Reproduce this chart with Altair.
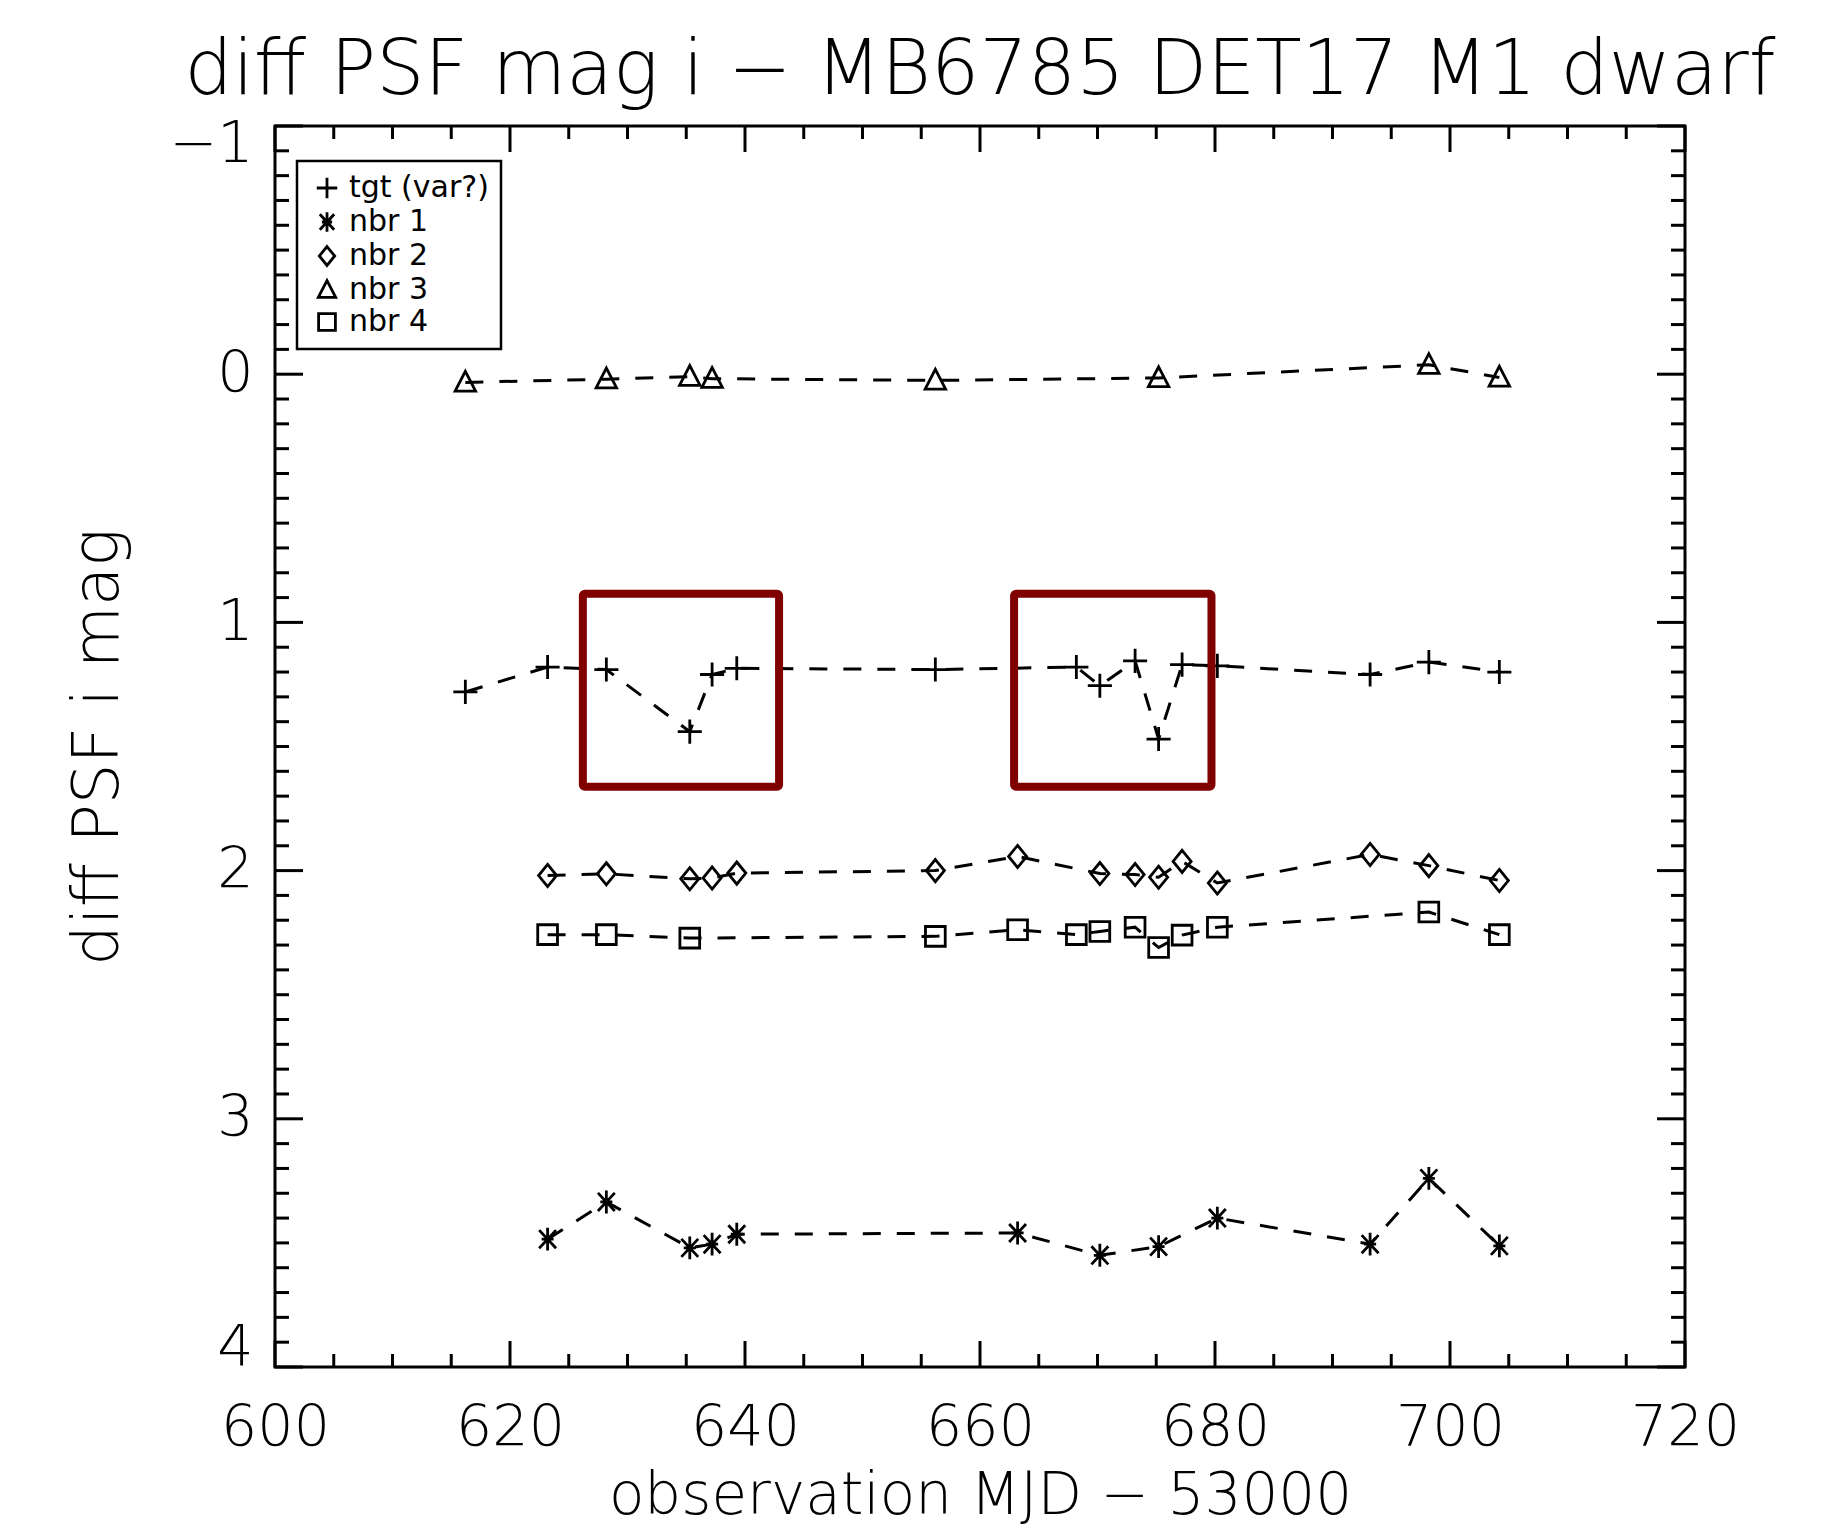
import altair as alt
import pandas as pd

# ---- data ----
series_names = ["tgt (var?)", "nbr 1", "nbr 2", "nbr 3", "nbr 4"]

mjd_tgt = [616.2, 623.2, 628.2, 635.3, 637.2, 639.3, 656.2, 668.2, 670.2, 673.2, 675.2, 677.2, 680.2, 693.2, 698.2, 704.2]
mag_tgt = [1.28, 1.18, 1.19, 1.44, 1.21, 1.185, 1.19, 1.18, 1.255, 1.155, 1.47, 1.17, 1.175, 1.21, 1.16, 1.20]

mjd_n1 = [623.2, 628.2, 635.3, 637.2, 639.3, 663.2, 670.2, 675.2, 680.2, 693.2, 698.2, 704.2]
mag_n1 = [3.485, 3.335, 3.52, 3.505, 3.465, 3.46, 3.55, 3.515, 3.40, 3.505, 3.24, 3.512]

mjd_n2 = [623.2, 628.2, 635.3, 637.2, 639.3, 656.2, 663.2, 670.2, 673.2, 675.2, 677.2, 680.2, 693.2, 698.2, 704.2]
mag_n2 = [2.02, 2.013, 2.033, 2.03, 2.01, 2.0, 1.943, 2.012, 2.016, 2.027, 1.963, 2.05, 1.935, 1.98, 2.04]

mjd_n3 = [616.2, 628.2, 635.3, 637.2, 656.2, 675.2, 698.2, 704.2]
mag_n3 = [0.033, 0.02, 0.01, 0.018, 0.025, 0.015, -0.038, 0.013]

mjd_n4 = [623.2, 628.2, 635.3, 656.2, 663.2, 668.2, 670.2, 673.2, 675.2, 677.2, 680.2, 698.2, 704.2]
mag_n4 = [2.258, 2.258, 2.272, 2.265, 2.238, 2.258, 2.245, 2.228, 2.31, 2.26, 2.228, 2.167, 2.258]

# highlight boxes (data coordinates)
box_x1 = [626.2, 662.9]
box_x2 = [642.9, 679.7]
box_y1 = [0.885, 0.885]
box_y2 = [1.662, 1.662]

x_major = [600, 620, 640, 660, 680, 700, 720]
x_minor = [v for v in range(600, 721, 5) if v % 20 != 0]
y_major = [-1, 0, 1, 2, 3, 4]
y_minor = [round(-1 + 0.1 * i, 1) for i in range(51) if i % 10 != 0]

# ---- build tables ----
rows = []
for name, xs, ys in zip(series_names,
                        [mjd_tgt, mjd_n1, mjd_n2, mjd_n3, mjd_n4],
                        [mag_tgt, mag_n1, mag_n2, mag_n3, mag_n4]):
    for xv, yv in zip(xs, ys):
        rows.append({"series": name, "mjd": xv, "mag": yv})
df = pd.DataFrame(rows)
boxes = pd.DataFrame({"x1": box_x1, "x2": box_x2, "y1": box_y1, "y2": box_y2})
xmaj = pd.DataFrame({"v": x_major})
xmin = pd.DataFrame({"v": x_minor})
ymaj = pd.DataFrame({"v": y_major})
ymin = pd.DataFrame({"v": y_minor})

W, H = 1410, 1241
TXTFONT = "DejaVu Sans"

xscale = alt.Scale(domain=[600, 720], nice=False, zero=False)
yscale = alt.Scale(domain=[-1, 4], nice=False, zero=False, reverse=True)
xaxis = alt.Axis(title="observation MJD − 53000", values=x_major, format="d",
                 labelFontSize=57, titleFontSize=58, labelPadding=33, labelFlush=False,
                 titleY=146, titleBaseline="alphabetic")
yaxis = alt.Axis(title="diff PSF i mag", values=y_major, format="d",
                 labelFontSize=57, titleFontSize=64, labelPadding=22, labelFlush=True,
                 labelFlushOffset=10,
                 titleX=-158, titleBaseline="alphabetic")


def X(field):
    return alt.X(field, type="quantitative", scale=xscale, axis=xaxis)


def Y(field):
    return alt.Y(field, type="quantitative", scale=yscale, axis=yaxis)


shape_paths = [
    "M-1,0L1,0M0,-1L0,1",
    "M0,-0.95L0,0.95M-0.7,-0.75L0.7,0.75M-0.7,0.75L0.7,-0.75M-0.5,0L0.5,0",
    "M0,-0.92L0.75,0L0,0.92L-0.75,0Z",
    "M-0.85,0.72L0.85,0.72L0,-0.92Z",
    "M-0.82,-0.82L0.82,-0.82L0.82,0.82L-0.82,0.82Z",
]

lines = alt.Chart(df).mark_line(color="black", strokeWidth=3, strokeDash=[18, 16]).encode(
    x=X("mjd"), y=Y("mag"), detail="series:N", order="mjd:Q"
)

points = alt.Chart(df).mark_point(filled=False, color="black", strokeWidth=2.8, size=580, opacity=1).encode(
    x=X("mjd"), y=Y("mag"),
    shape=alt.Shape("series:N", scale=alt.Scale(domain=series_names, range=shape_paths),
                    legend=alt.Legend(title=None, orient="none", legendX=22, legendY=35,
                                      strokeColor="black", padding=12,
                                      fillColor="white",
                                      labelFont=TXTFONT, labelFontSize=30, labelColor="black",
                                      labelOffset=7, symbolOffset=3, rowPadding=2,
                                      symbolSize=420, symbolStrokeWidth=2.8,
                                      symbolStrokeColor="black")),
)

rects = alt.Chart(boxes).mark_rect(fill="transparent", stroke="#800000", strokeWidth=8, cornerRadius=2).encode(
    x=X("x1"), x2="x2", y=Y("y1"), y2="y2"
)

tick_style = dict(color="black", strokeWidth=3)
ticks = [
    alt.Chart(xmaj).mark_rule(**tick_style).encode(x=X("v"), y=alt.value(H), y2=alt.value(H - 26)),
    alt.Chart(xmin).mark_rule(**tick_style).encode(x=X("v"), y=alt.value(H), y2=alt.value(H - 13)),
    alt.Chart(xmaj).mark_rule(**tick_style).encode(x=X("v"), y=alt.value(0), y2=alt.value(26)),
    alt.Chart(xmin).mark_rule(**tick_style).encode(x=X("v"), y=alt.value(0), y2=alt.value(13)),
    alt.Chart(ymaj).mark_rule(**tick_style).encode(y=Y("v"), x=alt.value(0), x2=alt.value(28)),
    alt.Chart(ymin).mark_rule(**tick_style).encode(y=Y("v"), x=alt.value(0), x2=alt.value(14)),
    alt.Chart(ymaj).mark_rule(**tick_style).encode(y=Y("v"), x=alt.value(W), x2=alt.value(W - 28)),
    alt.Chart(ymin).mark_rule(**tick_style).encode(y=Y("v"), x=alt.value(W), x2=alt.value(W - 14)),
]

chart = alt.layer(*ticks, lines, points, rects).properties(
    width=W, height=H,
    title=alt.TitleParams("diff PSF mag i − MB6785 DET17 M1 dwarf", fontSize=76, font=TXTFONT,
                          fontWeight=200, color="black", anchor="middle", frame="group",
                          baseline="alphabetic", offset=-55),
    autosize=alt.AutoSizeParams(type="none"),
    padding={"left": 267, "top": 118, "right": 142, "bottom": 161},
    background="white",
).configure_view(
    stroke="black", strokeWidth=3
).configure_axis(
    grid=False, domain=False, ticks=False, labelFont=TXTFONT, titleFont=TXTFONT,
    labelColor="black", titleColor="black", titleFontWeight=200, labelFontWeight=200,
).configure_legend(
    strokeWidth=2.5
)

chart.save("out.html", embed_options={"renderer": "svg", "actions": False})
